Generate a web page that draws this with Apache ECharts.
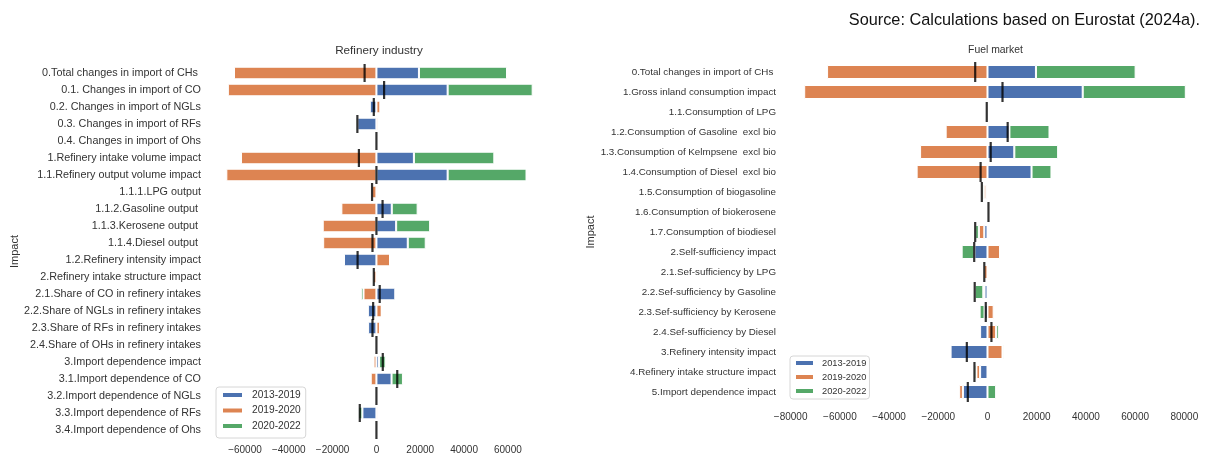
<!DOCTYPE html>
<html>
<head>
<meta charset="utf-8">
<title>Decomposition of changes in hydrocarbon imports</title>
<script src="https://cdn.jsdelivr.net/npm/echarts@6/dist/echarts.min.js"></script>
<style>
  html, body { margin: 0; padding: 0; background: #fff; }
  #chart { width: 1205px; height: 459px; }
</style>
</head>
<body>
<div id="chart"></div>
<script>
// Period names (legend entries)
const periods = ['2013-2019', '2019-2020', '2020-2022'];

// Refinery industry decomposition
const refineryCategories = [
  '0.Total changes in import of CHs ',
  '0.1. Changes in import of CO',
  '0.2. Changes in import of NGLs',
  '0.3. Changes in import of RFs',
  '0.4. Changes in import of Ohs',
  '1.Refinery intake volume impact',
  '1.1.Refinery output volume impact',
  '1.1.1.LPG output',
  '1.1.2.Gasoline output ',
  '1.1.3.Kerosene output ',
  '1.1.4.Diesel output ',
  '1.2.Refinery intensity impact',
  '2.Refinery intake structure impact',
  '2.1.Share of CO in refinery intakes',
  '2.2.Share of NGLs in refinery intakes',
  '2.3.Share of RFs in refinery intakes',
  '2.4.Share of OHs in refinery intakes',
  '3.Import dependence impact',
  '3.1.Import dependence of CO',
  '3.2.Import dependence of NGLs',
  '3.3.Import dependence of RFs',
  '3.4.Import dependence of Ohs'
];
const refinery2013_2019 = [19400, 32500, -3000, -8700, 0, 17100, 32500, 500, 7000, 9000, 14300, -14800, 700, 8600, -3900, -3800, 0, 1200, 6900, 0, -6400, 0];
const refinery2019_2020 = [-65000, -67800, 1800, 800, 0, -61800, -68500, -2200, -16000, -24500, -24300, 6200, -1500, -5900, 2400, 1600, 0, -1300, -2600, 0, 600, 0];
const refinery2020_2022 = [40200, 38800, 0, -800, 0, 36700, 36000, -300, 11800, 15500, 8200, 0, -400, -1200, 0, 400, 0, 3000, 5200, 0, -1800, 0];
const refineryTicks = [-60000, -40000, -20000, 0, 20000, 40000, 60000];

// Fuel market decomposition
const fuelCategories = [
  '0.Total changes in import of CHs ',
  '1.Gross inland consumption impact',
  '1.1.Consumption of LPG',
  '1.2.Consumption of Gasoline  excl bio',
  '1.3.Consumption of Kelmpsene  excl bio',
  '1.4.Consumption of Diesel  excl bio',
  '1.5.Consumption of biogasoline',
  '1.6.Consumption of biokerosene',
  '1.7.Consumption of biodiesel',
  '2.Self-sufficiency impact',
  '2.1.Sef-sufficiency by LPG',
  '2.2.Sef-sufficiency by Gasoline',
  '2.3.Sef-sufficiency by Kerosene',
  '2.4.Sef-sufficiency by Diesel',
  '3.Refinery intensity impact',
  '4.Refinery intake structure impact',
  '5.Import dependence impact'
];
const fuel2013_2019 = [19700, 38700, 0, 8900, 10900, 17900, -500, 400, -1300, -5300, 200, -1200, -1200, -3000, -15000, -3000, -10000];
const fuel2019_2020 = [-65200, -74500, -300, -17000, -27400, -28800, -1000, 0, -2200, 5100, -1500, -500, 2500, 3500, 6100, -1500, -1500];
const fuel2020_2022 = [40500, 41900, 0, 16300, 17800, 8100, -800, 0, -1500, -5200, 0, -3500, -2000, 1100, 500, -800, 3500];
const fuelTicks = [-80000, -60000, -40000, -20000, 0, 20000, 40000, 60000, 80000];

const COLORS = ['#4C72B0', '#DD8452', '#55A868'];
const FONT = '"Liberation Sans", Arial, sans-serif';
const TEXT = '#333';

// Net change of a row = sum of the three periods
function netOf(a, b, c) {
  return a.map((v, i) => [v + b[i] + c[i], i]);
}

function fmtTick(v) {
  return v < 0 ? '\u2212' + Math.abs(v) : String(v);
}

function barSeries(name, data, idx, stack, color, gap) {
  return {
    name: name,
    type: 'bar',
    stack: stack,
    xAxisIndex: idx,
    yAxisIndex: idx,
    data: data,
    barCategoryGap: gap,
    itemStyle: { color: color, borderColor: '#fff', borderWidth: 1 },
    emphasis: { disabled: true },
    z: 2
  };
}

function netSeries(data, idx, h) {
  return {
    name: 'net',
    type: 'scatter',
    xAxisIndex: idx,
    yAxisIndex: idx,
    data: data,
    symbol: 'rect',
    symbolSize: [2.2, h],
    itemStyle: { color: '#000' },
    emphasis: { disabled: true },
    z: 5
  };
}

const legendBase = {
  orient: 'vertical',
  icon: 'rect',
  data: periods,
  borderColor: '#d6d6d6',
  borderWidth: 1,
  borderRadius: 3,
  backgroundColor: '#fff',
  z: 10
};

const chart = echarts.init(document.getElementById('chart'));
chart.setOption({
  animation: false,
  color: COLORS,
  textStyle: { fontFamily: FONT },
  grid: [
    { left: 211, top: 64.5, width: 337, height: 374 },
    { left: 785, top: 62, width: 420, height: 340 }
  ],
  xAxis: [
    {
      gridIndex: 0, type: 'value', min: -75500, max: 78300,
      splitLine: { show: false }, axisLine: { show: false }, axisTick: { show: false },
      axisLabel: { customValues: refineryTicks, formatter: fmtTick, margin: 7, fontSize: 10, color: TEXT, fontFamily: FONT }
    },
    {
      gridIndex: 1, type: 'value', min: -82300, max: 88400,
      splitLine: { show: false }, axisLine: { show: false }, axisTick: { show: false },
      axisLabel: { customValues: fuelTicks, formatter: fmtTick, margin: 10, fontSize: 10, color: TEXT, fontFamily: FONT }
    }
  ],
  yAxis: [
    {
      gridIndex: 0, type: 'category', inverse: true, data: refineryCategories,
      axisLine: { show: false }, axisTick: { show: false },
      axisLabel: { fontSize: 10.8, color: TEXT, margin: 10, fontFamily: FONT },
      name: 'Impact', nameLocation: 'middle', nameGap: 191,
      nameTextStyle: { fontSize: 11, color: TEXT, fontFamily: FONT }
    },
    {
      gridIndex: 1, type: 'category', inverse: true, data: fuelCategories,
      axisLine: { show: false }, axisTick: { show: false },
      axisLabel: { fontSize: 9.8, color: TEXT, margin: 9, fontFamily: FONT },
      name: 'Impact', nameLocation: 'middle', nameGap: 186,
      nameTextStyle: { fontSize: 11, color: TEXT, fontFamily: FONT }
    }
  ],
  legend: [
    Object.assign({}, legendBase, {
      left: 216, top: 387,
      itemWidth: 21, itemHeight: 6, itemGap: 3.5,
      padding: [2, 5, 6, 5],
      textStyle: { fontSize: 10.2, lineHeight: 12, color: TEXT, fontFamily: FONT, padding: [0, 0, 0, 4] }
    }),
    Object.assign({}, legendBase, {
      left: 790, top: 356,
      itemWidth: 19, itemHeight: 6, itemGap: 2,
      padding: [1, 3, 2, 4],
      textStyle: { fontSize: 9.3, lineHeight: 12, color: TEXT, fontFamily: FONT, padding: [0, 0, 0, 3] }
    })
  ],
  graphic: [
    {
      type: 'text', x: 1200, y: 21,
      style: { text: 'Source: Calculations based on Eurostat (2024a).', font: '16.3px ' + FONT, fill: '#111', textAlign: 'right', textVerticalAlign: 'middle' }
    },
    {
      type: 'text', x: 379, y: 51,
      style: { text: 'Refinery industry', font: '11.7px ' + FONT, fill: TEXT, textAlign: 'center', textVerticalAlign: 'middle' }
    },
    {
      type: 'text', x: 995.5, y: 50,
      style: { text: 'Fuel market', font: '10.4px ' + FONT, fill: TEXT, textAlign: 'center', textVerticalAlign: 'middle' }
    }
  ],
  series: [
    barSeries(periods[0], refinery2013_2019, 0, 'refinery', COLORS[0], '26%'),
    barSeries(periods[1], refinery2019_2020, 0, 'refinery', COLORS[1], '26%'),
    barSeries(periods[2], refinery2020_2022, 0, 'refinery', COLORS[2], '26%'),
    netSeries(netOf(refinery2013_2019, refinery2019_2020, refinery2020_2022), 0, 18),
    barSeries(periods[0], fuel2013_2019, 1, 'fuel', COLORS[0], '30%'),
    barSeries(periods[1], fuel2019_2020, 1, 'fuel', COLORS[1], '30%'),
    barSeries(periods[2], fuel2020_2022, 1, 'fuel', COLORS[2], '30%'),
    netSeries(netOf(fuel2013_2019, fuel2019_2020, fuel2020_2022), 1, 20)
  ]
});
</script>
</body>
</html>
